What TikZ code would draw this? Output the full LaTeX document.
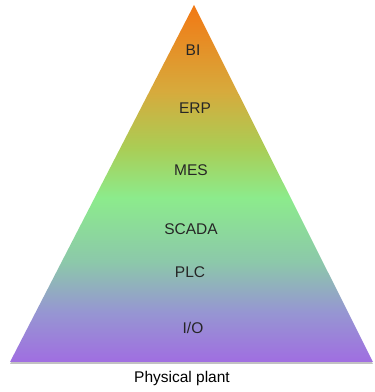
\documentclass[tikz,border=0pt]{standalone}
\usepackage{fontspec}
\setmainfont{Liberation Sans}
\usepackage{xcolor}
\usetikzlibrary{positioning}

\definecolor{lvlio}{RGB}{160,110,225}
\definecolor{lvllav}{RGB}{150,150,210}
\definecolor{lvlplc}{RGB}{140,200,170}
\definecolor{lvlmes}{RGB}{140,235,140}
\definecolor{lvlerp}{RGB}{170,205,85}
\definecolor{lvlbi}{RGB}{215,170,60}
\definecolor{lvltop}{RGB}{242,120,20}

\pgfdeclareverticalshading{pyramid}{100bp}{%
  color(0bp)=(lvlio); color(25bp)=(lvlio); color(32bp)=(lvllav);
  color(39bp)=(lvlplc); color(48bp)=(lvlmes); color(55bp)=(lvlerp);
  color(63bp)=(lvlbi); color(75bp)=(lvltop); color(100bp)=(lvltop)}

\begin{document}
\begin{tikzpicture}[x=1pt, y=1pt,
    level/.style={font=\fontsize{15.5}{18}\selectfont, text=black!85}]
  \useasboundingbox (0,0) rectangle (375,392);

  \coordinate (apex) at (194,387);
  \coordinate (left) at (10,30);
  \coordinate (right) at (373,30);

  % shadow and pyramid
  \fill[black!40, opacity=0.6] ([yshift=-2]apex) -- ([yshift=-2]left) -- ([yshift=-2]right) -- cycle;
  \shade[shading=pyramid] (apex) -- (left) -- (right) -- cycle;

  \node[level] (bi) at (193,342) {BI};
  \node[level] (erp) at (195,284) {ERP};
  \node[level] (mes) at (191,222) {MES};
  \node[level] (scada) at (191,163) {SCADA};
  \node[level] (plc) at (190,120) {PLC};
  \node[level] (io) at (193,64) {I/O};

  \node[level, text=black] (plant) at (182,14) {Physical plant};
\end{tikzpicture}
\end{document}
